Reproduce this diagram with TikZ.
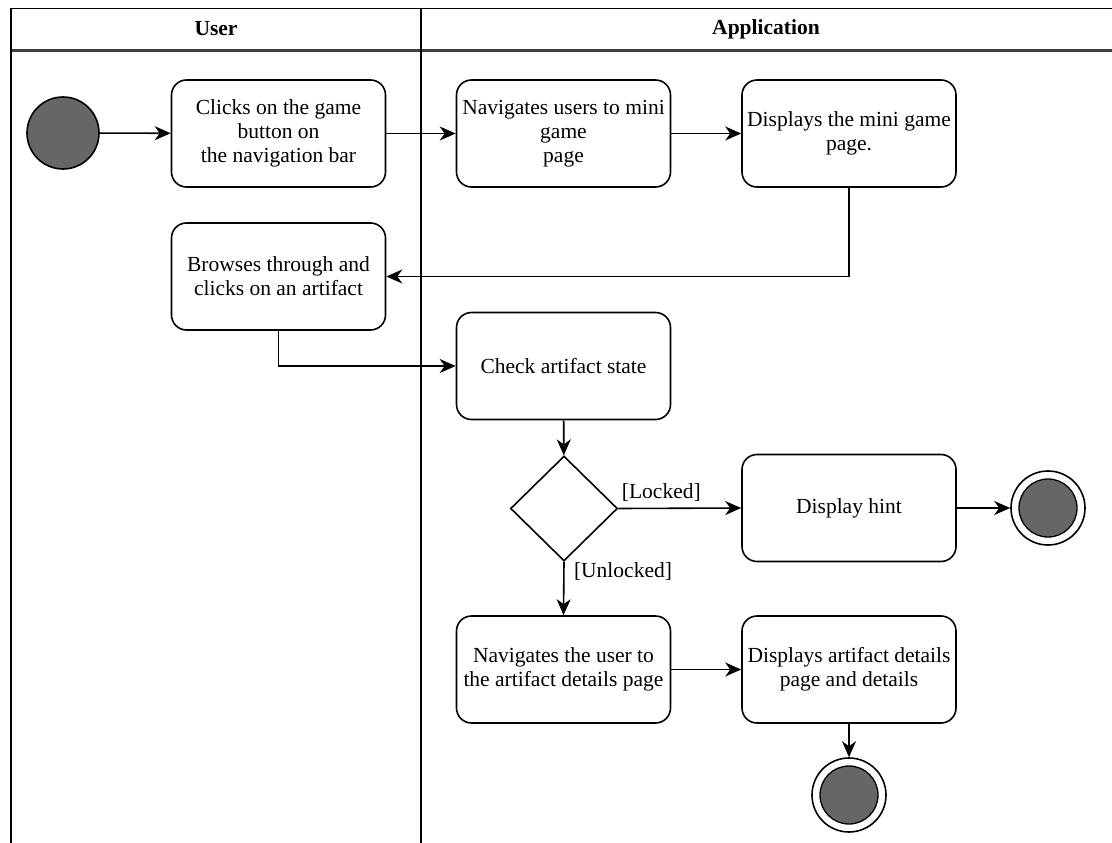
\documentclass[tikz,border=0pt]{standalone}
\usepackage{fontspec}
\setmainfont{Liberation Serif}
\usetikzlibrary{shapes.geometric,arrows.meta}
\definecolor{statefill}{HTML}{666666}
\begin{document}
\begin{tikzpicture}[x=1pt,y=-1pt,
  every node/.style={font=\fontsize{21.5}{24}\selectfont},
  lane/.style={line width=1.5pt},
  action/.style={draw, line width=1.6pt, rounded corners=15pt, align=center,
    minimum width=214pt, minimum height=107pt, inner sep=1pt},
  decision/.style={draw, line width=1.6pt, diamond, minimum width=107pt,
    minimum height=105pt, inner sep=0pt},
  initial/.style={draw, line width=1.6pt, circle, fill=statefill,
    minimum size=72pt, inner sep=0pt},
  final/.style={draw, line width=1.6pt, circle, fill=white,
    minimum size=74pt, inner sep=0pt,
    path picture={\filldraw[fill=statefill, draw=black, line width=1.3pt]
      (path picture bounding box.center) circle (29pt);}},
  flow/.style={line width=1.6pt, -{Stealth[length=16pt,width=14pt,inset=5pt]}},
  guard/.style={font=\fontsize{21.5}{24}\selectfont}
]
\useasboundingbox (0,0) rectangle (1112,843);

% swimlanes
\draw[lane] (11,8.5) -- (1112,8.5);
\draw[line width=2.2pt, black!75] (11,50.5) -- (1112,50.5);
\draw[lane] (11,8) -- (11,843);
\draw[lane] (421,8) -- (421,843);
\node[font=\bfseries\fontsize{21.5}{24}\selectfont] (hUser) at (216,29) {User};
\node[font=\bfseries\fontsize{21.5}{24}\selectfont] (hApp) at (766,29) {Application};

% nodes
\node[initial] (start) at (63,133) {};
\node[action] (clicks) at (278.5,133.5) {Clicks on the game\\button on\\the navigation bar};
\node[action] (navmini) at (563.5,133.5) {Navigates users to mini\\game\\page};
\node[action] (showmini) at (849,133.5) {Displays the mini game\\page.};
\node[action] (browse) at (278.5,276.5) {Browses through and\\clicks on an artifact};
\node[action] (check) at (563.5,366) {Check artifact state};
\node[decision] (dec) at (564,508.5) {};
\node[action] (hint) at (849,508) {Display hint};
\node[final] (end1) at (1048,508) {};
\node[action] (navdet) at (563.5,669.5) {Navigates the user to\\the artifact details page};
\node[action] (showdet) at (849,669.5) {Displays artifact details\\page and details};
\node[final] (end2) at (849,795) {};

% flows
\draw[flow] (start) -- (clicks);
\draw[flow] (clicks) -- (navmini);
\draw[flow] (navmini) -- (showmini);
\draw[flow] (showmini.south) |- (browse.east);
\draw[flow] (browse.south) |- (check.west);
\draw[flow] (check) -- (dec);
\draw[flow] (dec.east) -- node[guard, pos=0.35, above=3pt] (lLocked) {[Locked]} (hint.west);
\draw[flow] (hint) -- (end1);
\draw[flow] (dec.south) -- node[guard, pos=0.18, right=6pt] (lUnlocked) {[Unlocked]} (navdet.north);
\draw[flow] (navdet) -- (showdet);
\draw[flow] (showdet) -- (end2);
\end{tikzpicture}
\end{document}
